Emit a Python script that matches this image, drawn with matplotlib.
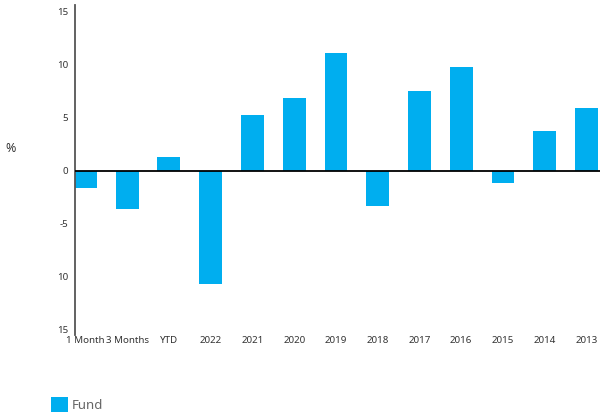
import matplotlib
matplotlib.use("Agg")
import matplotlib.pyplot as plt

plt.rcParams["font.family"] = ["Noto Sans", "DejaVu Sans"]

# ── Data ──────────────────────────────────────────────────────────────────────
categories = ["1 Month", "3 Months", "YTD", "2022", "2021", "2020", "2019",
              "2018", "2017", "2016", "2015", "2014", "2013"]
fund = [-1.67, -3.65, 1.32, -10.66, 5.19, 6.79, 11.04,
        -3.37, 7.45, 9.8, -1.2, 3.77, 5.85]
y_ticks = [15, 10, 5, 0, -5, -10, -15]
y_tick_labels = ["15", "10", "5", "0", "-5", "10", "15"]

BLUE = "#00AEEF"
TXT = "#333333"

fig = plt.figure(figsize=(6.16, 4.17), dpi=100)
ax = fig.add_axes([0.1218, 0.1966, 0.852, 0.7914])

x = list(range(len(categories)))
bars = ax.bar(x, fund, width=0.55, color=BLUE, label="Fund", zorder=2)
ax.axhline(0, color="black", lw=1.3, zorder=3)

ax.set_xlim(-0.25, 12.32)
ax.set_ylim(-15.5, 15.6)
ax.set_yticks(y_ticks)
ax.set_yticklabels(y_tick_labels)
ax.set_xticks(x)
ax.set_xticklabels(categories)
ax.tick_params(axis="both", length=0, labelsize=7, colors=TXT)
ax.tick_params(axis="y", pad=5)
ax.tick_params(axis="x", pad=1)

for s in ["top", "right", "bottom"]:
    ax.spines[s].set_visible(False)
ax.spines["left"].set_color("#555555")
ax.spines["left"].set_linewidth(1.3)

fig.text(0.008, 0.645, "%", fontsize=9, color=TXT, ha="left", va="center")

fig.legend(handles=[bars], labels=["Fund"], loc="lower left",
           bbox_to_anchor=(0.0828, 0.012), frameon=False, fontsize=9.5,
           borderpad=0, borderaxespad=0,
           handlelength=1.3, handleheight=1.3, handletextpad=0.25,
           labelcolor="#666666")

fig.savefig("out.png", dpi=100)
